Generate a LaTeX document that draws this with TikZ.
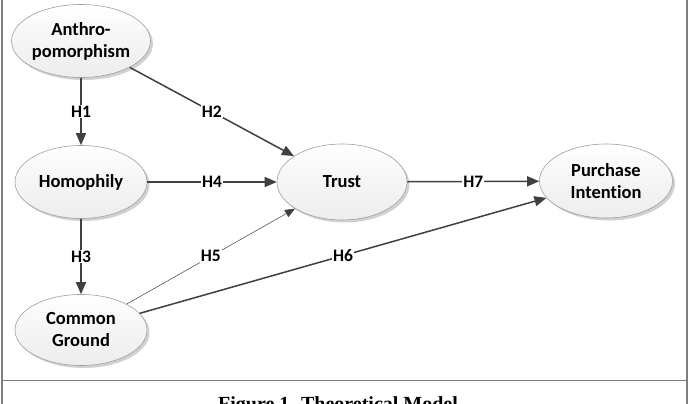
\documentclass[tikz,border=0pt]{standalone}
\usepackage{fontspec}
\setmainfont{Carlito}[Ligatures={NoCommon}]
\newfontfamily\capfont{Liberation Serif}
\usetikzlibrary{arrows.meta,shadows,shapes.geometric}
\definecolor{arrowgray}{HTML}{404040}
\definecolor{framegray}{HTML}{808080}
\tikzset{
  construct/.style={ellipse, draw=gray!75, line width=0.6pt,
    top color=white, bottom color=gray!14, middle color=gray!8,
    drop shadow={shadow xshift=2.5pt, shadow yshift=-2.5pt, fill=gray!45, opacity=0.8},
    minimum width=#1, minimum height=73pt, inner sep=0pt, align=center,
    font=\fontsize{18.5}{22}\selectfont\bfseries},
  construct/.default=132pt,
  hyp/.style={draw=arrowgray, line width=1.5pt, -{Triangle[length=12pt,width=10pt]}},
  thinhyp/.style={draw=arrowgray, line width=0.5pt, -{Triangle[length=10pt,width=8pt]}},
  hlabel/.style={fill=white, inner sep=1pt, font=\fontsize{17.5}{18}\selectfont\bfseries, text=black}
}
\begin{document}
\begin{tikzpicture}[x=1pt,y=-1pt]
\useasboundingbox (0,0) rectangle (689,404);
\clip (0,0) rectangle (689,404);
\fill[white] (0,0) rectangle (689,404);
% frame
\draw[framegray, line width=1.6pt] (2,0) -- (2,404);
\draw[framegray, line width=1.6pt] (687,0) -- (687,404);
\draw[framegray, line width=1.6pt] (2,380.5) -- (687,380.5);
% nodes
\node[construct] (anth) at (81,41) {Anthro-\\pomorphism};
\node[construct] (homo) at (81,182) {Homophily};
\node[construct, minimum height=71pt] (cg) at (81,330) {Common\\Ground};
\node[construct=130pt, minimum height=76pt] (trust) at (342,182) {Trust};
\node[construct=133pt, minimum height=74pt] (pi) at (606,181) {Purchase\\Intention};
% connectors
\draw[hyp] (anth) -- node[hlabel]{H1} (homo);
\draw[hyp] (anth) -- node[hlabel]{H2} (trust);
\draw[hyp] (homo) -- node[hlabel]{H4} (trust);
\draw[hyp] (homo) -- node[hlabel]{H3} (cg);
\draw[thinhyp] (cg) -- node[hlabel]{H5} (trust);
\draw[hyp] (cg) -- node[hlabel]{H6} (pi);
\draw[hyp] (trust) -- node[hlabel]{H7} (pi);
% caption
\node[font=\capfont\fontsize{20}{24}\selectfont\bfseries, anchor=base] (cap) at (338,410) {Figure 1. Theoretical Model};
\end{tikzpicture}
\end{document}
